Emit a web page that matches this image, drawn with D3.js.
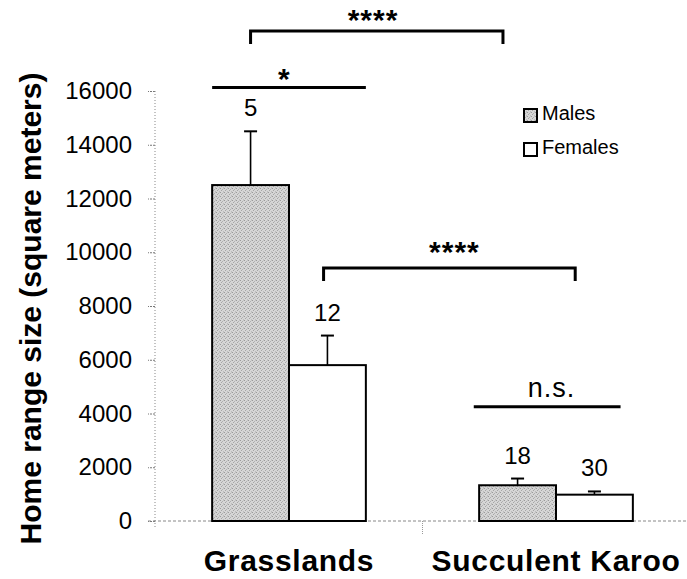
<!DOCTYPE html>
<html>
<head>
<meta charset="utf-8">
<script src="https://cdn.jsdelivr.net/npm/d3@7"></script>
<style>
  html, body { margin: 0; padding: 0; background: #fff; }
  svg { display: block; }
  text { font-family: "Liberation Sans", Arial, Helvetica, sans-serif; fill: #000; }
</style>
</head>
<body>
<svg id="chart" width="687" height="579"></svg>
<script>
// ---- data ----
const categories = ["Grasslands", "Succulent Karoo"];
const seriesNames = ["Males", "Females"];
const malesMean = [12500, 1330];
const malesUpper = [14500, 1580];
const femalesMean = [5800, 980];
const femalesUpper = [6900, 1100];
const malesN = ["5", "18"];
const femalesN = ["12", "30"];
const yTicks = [0, 2000, 4000, 6000, 8000, 10000, 12000, 14000, 16000];
const yTitle = "Home range size (square meters)";
// significance annotations (values in data units)
const sigLabels = ["****", "*", "****", "n.s."];
const sigLineValue = [18233, 16130, 9414, 4253];
const sigLabelValue = [18270, 16074, 9637, 4625];
const sigFrom = [["Grasslands", "Males", 0.5], ["Grasslands", "Males", 0.0], ["Grasslands", "Females", 0.45], ["Succulent Karoo", "Males", -0.07]];
const sigTo = [["Succulent Karoo", "Males", 0.31], ["Grasslands", "Females", 1.0], ["Succulent Karoo", "Males", 1.25], ["Succulent Karoo", "Females", 0.84]];
const sigBracket = [true, false, true, false];
const sigLabelX = [0.485, 0.47, 0.52, 0.53];

// ---- build ----
const svg = d3.select("#chart");
const W = 687, H = 579;
const x0 = d3.scaleBand().domain(categories).range([155.5, 689.5]).padding(0);
const x1 = d3.scaleBand().domain(seriesNames).range([0, x0.bandwidth()]).paddingInner(0).paddingOuter(0.737);
const y = d3.scaleLinear().domain([0, 16000]).range([521, 91]);

const rows = [];
categories.forEach((c, i) => {
  rows.push({cat: c, s: "Males", v: malesMean[i], up: malesUpper[i], n: malesN[i]});
  rows.push({cat: c, s: "Females", v: femalesMean[i], up: femalesUpper[i], n: femalesN[i]});
});

// pattern for stippled grey
const defs = svg.append("defs");
const pat = defs.append("pattern").attr("id", "stip").attr("patternUnits", "userSpaceOnUse")
  .attr("width", 4).attr("height", 4);
pat.append("rect").attr("width", 4).attr("height", 4).attr("fill", "#d6d6d6");
[[0,0,"#9a9a9a"],[2,1,"#b0b0b0"],[1,2,"#a5a5a5"],[3,3,"#bcbcbc"],[3,0,"#c4c4c4"]].forEach(p => {
  pat.append("rect").attr("x", p[0]).attr("y", p[1]).attr("width", 1).attr("height", 1).attr("fill", p[2]);
});

// axes
const yAxis = d3.axisLeft(y).tickValues(yTicks).tickSize(7).tickPadding(16).tickFormat(d3.format("d"));
const gy = svg.append("g").attr("transform", "translate(155,0)").call(yAxis);
gy.select(".domain").remove();
gy.selectAll(".tick line").attr("stroke", "#777").attr("stroke-dasharray", "2,1");
gy.selectAll(".tick text").attr("font-size", 24).attr("fill", "#000")
  .style("font-family", '"Liberation Sans", Arial, sans-serif');
svg.append("line").attr("x1", 155).attr("x2", 155).attr("y1", y(16000)).attr("y2", 529)
  .attr("stroke", "#888").attr("stroke-dasharray", "1,2");
svg.append("line").attr("x1", 148).attr("x2", W).attr("y1", y(0)).attr("y2", y(0))
  .attr("stroke", "#888").attr("stroke-dasharray", "3,2");
svg.append("line").attr("x1", x0(categories[1])).attr("x2", x0(categories[1]))
  .attr("y1", y(0)).attr("y2", y(0) + 13).attr("stroke", "#999").attr("stroke-dasharray", "1,1");

// bars
const bars = svg.append("g");
bars.selectAll("rect").data(rows).join("rect")
  .attr("x", d => x0(d.cat) + x1(d.s))
  .attr("y", d => y(d.v))
  .attr("width", x1.bandwidth())
  .attr("height", d => y(0) - y(d.v))
  .attr("fill", d => d.s === "Males" ? "url(#stip)" : "#fff")
  .attr("stroke", "#000").attr("stroke-width", 2);

// error bars (upper only)
const eb = svg.append("g").attr("stroke", "#000").attr("stroke-width", 1.6);
rows.forEach(d => {
  const cx = x0(d.cat) + x1(d.s) + x1.bandwidth() / 2;
  eb.append("line").attr("x1", cx).attr("x2", cx).attr("y1", y(d.v)).attr("y2", y(d.up));
  eb.append("line").attr("x1", cx - 6.5).attr("x2", cx + 6.5).attr("y1", y(d.up)).attr("y2", y(d.up)).attr("stroke-width", 2);
});

// n labels
svg.append("g").selectAll("text").data(rows).join("text")
  .attr("x", d => x0(d.cat) + x1(d.s) + x1.bandwidth() / 2)
  .attr("y", d => y(d.up) - 15)
  .attr("text-anchor", "middle").attr("font-size", 24)
  .text(d => d.n);

// significance annotations
const px = p => x0(p[0]) + x1(p[1]) + p[2] * x1.bandwidth();
sigLabels.forEach((lab, i) => {
  const xa = px(sigFrom[i]), xb = px(sigTo[i]), ly = y(sigLineValue[i]);
  const g = svg.append("g");
  if (sigBracket[i]) {
    g.append("path").attr("d", `M${xa},${ly + 13}V${ly}H${xb}V${ly + 13}`)
      .attr("fill", "none").attr("stroke", "#000").attr("stroke-width", 3);
  } else {
    g.append("line").attr("x1", xa).attr("x2", xb).attr("y1", ly).attr("y2", ly)
      .attr("stroke", "#000").attr("stroke-width", 3);
  }
  const isStars = lab.indexOf("*") >= 0;
  g.append("text").attr("x", xa + (xb - xa) * sigLabelX[i]).attr("y", y(sigLabelValue[i]))
    .attr("text-anchor", "middle")
    .attr("font-size", isStars ? 30 : 27)
    .attr("font-weight", isStars ? "bold" : "normal")
    .attr("letter-spacing", 1)
    .text(lab);
});

// legend
const lg = svg.append("g").attr("transform", "translate(523,108)");
seriesNames.forEach((s, i) => {
  lg.append("rect").attr("x", 1).attr("y", i * 34 + 1).attr("width", 13).attr("height", 13)
    .attr("fill", s === "Males" ? "url(#stip)" : "#fff").attr("stroke", "#000").attr("stroke-width", 2);
  lg.append("text").attr("x", 19).attr("y", i * 34 + 12).attr("font-size", 20).text(s);
});

// category labels
svg.append("g").selectAll("text").data(categories).join("text")
  .attr("x", d => x0(d) + x0.bandwidth() / 2)
  .attr("y", 571)
  .attr("text-anchor", "middle").attr("font-size", 30).attr("font-weight", "bold")
  .attr("letter-spacing", 0.7)
  .text(d => d);

// y title
svg.append("text").attr("transform", "translate(41,308.5) rotate(-90)")
  .attr("text-anchor", "middle").attr("font-size", 30).attr("font-weight", "bold")
  .text(yTitle);
</script>
</body>
</html>
